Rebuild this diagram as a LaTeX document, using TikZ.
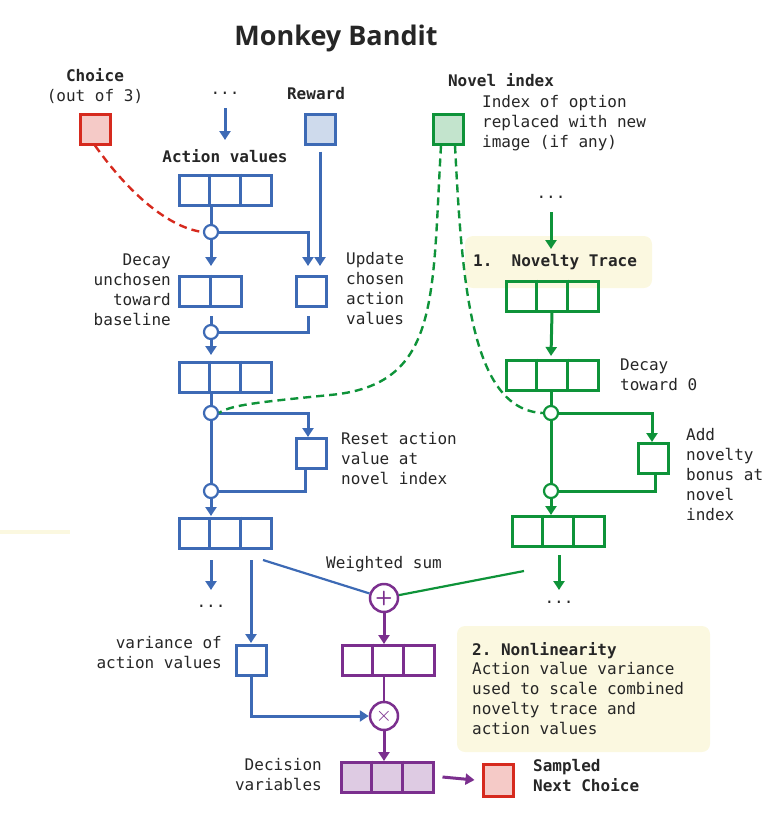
\documentclass[tikz,border=0pt]{standalone}
\usepackage{fontspec}
\setmainfont{Noto Sans}
\setmonofont{DejaVu Sans Mono}
\newfontfamily\titlefont{Open Sans}
\usetikzlibrary{calc,arrows.meta}
\definecolor{cb}{HTML}{3D6AB5}
\definecolor{cg}{HTML}{0E9339}
\definecolor{cp}{HTML}{7B2F8E}
\definecolor{cr}{HTML}{D62A1E}
\definecolor{cy}{HTML}{FBF8E0}
\newcommand\trip[4]{%
  \node[box,#4,minimum width=92pt] (#1) at (#2,#3) {};
  \draw[ln,#4,fill=none] ($(#1.north west)!1/3!(#1.north east)$) -- ($(#1.south west)!1/3!(#1.south east)$);
  \draw[ln,#4,fill=none] ($(#1.north west)!2/3!(#1.north east)$) -- ($(#1.south west)!2/3!(#1.south east)$);}
\begin{document}
\begin{tikzpicture}[x=1pt,y=-1pt,
  box/.style={draw,line width=3pt,minimum width=30pt,minimum height=30pt,inner sep=0pt},
  ln/.style={line width=3pt},
  ar/.style={ln,-{Triangle[length=9pt,width=11pt]}},
  dot/.style={circle,draw,fill=white,line width=2.2pt,minimum size=14pt,inner sep=0pt},
  op/.style={circle,draw=cp,fill=white,line width=2.5pt,minimum size=28pt,inner sep=0pt,text=cp,font=\sffamily\bfseries\fontsize{20}{20}\selectfont},
  t/.style={font=\ttfamily\fontsize{16}{20}\selectfont,text=black!85,inner sep=0pt,align=left},
  tb/.style={t,font=\ttfamily\bfseries\fontsize{16}{20}\selectfont},
  dsh/.style={line width=2.4pt,dash pattern=on 8pt off 5pt},
  note/.style={fill=cy,rounded corners=8pt}]
\useasboundingbox (0,0) rectangle (782,820);
\fill[cy] (0,530) rectangle (70,534);
% title
\node[font=\titlefont\bfseries\fontsize{27}{30}\selectfont,text=black!85] (title) at (336,38) {Monkey Bandit};
% notes
\node[note,minimum width=187pt,minimum height=52pt] (n1) at (558.5,262) {};
\node[tb,anchor=west] (n1t) at (473,262) {1.\ \ Novelty Trace};
\node[note,minimum width=253pt,minimum height=126pt] (n2) at (583.5,689) {};
\node[tb,anchor=west] (n2t) at (472,651) {2. Nonlinearity};
\node[t,anchor=north west] (n2b) at (472,662) {Action value variance\\used to scale combined\\novelty trace and\\action values};
% left top
\node[tb] (chl) at (95,75) {Choice};
\node[t] (chl2) at (95,96) {(out of 3)};
\node[box,draw=cr,fill=cr!25] (ch) at (95,129) {};
\node[t] (dd1) at (225,93) {...};
\coordinate (dd1s) at (225,108);
\node[tb] (rwl) at (316,94) {Reward};
\node[box,draw=cb,fill=cb!25] (rw) at (320,129) {};
\node[tb] (avl) at (225,156) {Action values};
\trip{av1}{225}{190}{draw=cb}
\draw[ar,cb] (dd1s) -- (225,140);
\node[dot,draw=cb] (c1) at (211,232) {};
\draw[ln,cb] (211,205) -- (c1);
\draw[cr,dsh] (ch.south) .. controls (130,195) and (170,228) .. (c1.west);
\node[box,draw=cb,minimum width=62pt] (dc) at (210,291) {};
\draw[ln,cb] ($(dc.north)$) -- (dc.south);
\node[box,draw=cb] (up) at (311,291) {};
\draw[ar,cb] (c1) -- (211,266);
\draw[ar,cb] (c1) -| (308,266);
\draw[ar,cb] (rw.south) ++(0,6) -- (320,266);
\node[t,align=right,anchor=north east] (dcl) at (171,254) {Decay\\unchosen\\toward\\baseline};
\node[t,anchor=north west] (upl) at (346,252) {Update\\chosen\\action\\values};
\node[dot,draw=cb] (c2) at (211,332) {};
\draw[ln,cb] (211,316) -- (c2);
\draw[ln,cb] (c2) -| (308,316);
\draw[ar,cb] (c2) -- (211,355);
\trip{av2}{225}{377}{draw=cb}
\node[dot,draw=cb] (c3) at (211,413) {};
\draw[ln,cb] (211,392) -- (c3);
\node[box,draw=cb] (rs) at (311,453) {};
\draw[ar,cb] (c3) -| (308,437);
\node[t,anchor=north west] (rsl) at (341,432) {Reset action\\value at\\novel index};
\node[dot,draw=cb] (c4) at (211,491) {};
\draw[ln,cb] (c3) -- (c4);
\draw[ln,cb] (c4) -| (305,468);
\draw[ar,cb] (c4) -- (211,516);
\trip{av3}{225}{533}{draw=cb}
\draw[ar,cb] (211,560) -- (211,590);
\node[t] (dd2) at (211,606) {...};
\draw[ar,cb] (251,560) -- (251,643);
\node[box,draw=cb] (var) at (251,660) {};
\node[t,align=right,anchor=north east] (varl) at (222,636) {variance of\\action values};
% right
\node[tb] (nvl) at (501,80) {Novel index};
\node[box,draw=cg,fill=cg!25] (nv) at (448,129) {};
\node[t,anchor=north west] (nvt) at (482,95) {Index of option\\replaced with new\\image (if any)};
\draw[cg,dsh] (nv.south) ++(-7,0) .. controls (432,300) and (440,385) .. (330,395) .. controls (260,402) and (230,405) .. (c3.east);
\node[t] (dd3) at (551,197) {...};
\draw[ar,cg] (551,212) -- (551,249);
\trip{nt1}{552}{296}{draw=cg}
\draw[ar,cg] (nt1.south) -- (551,356);
\trip{nt2}{552}{375}{draw=cg}
\node[t,anchor=north west] (dtl) at (620,359) {Decay\\toward 0};
\node[dot,draw=cg] (g1) at (551,413) {};
\draw[ln,cg] (551,390) -- (g1);
\draw[cg,dsh] (nv.south) ++(7,0) .. controls (462,280) and (470,410) .. (g1.west);
\node[box,draw=cg] (ab) at (653,458) {};
\draw[ar,cg] (g1) -| (652,442);
\node[t,anchor=north west] (abl) at (686,428) {Add\\novelty\\bonus at\\novel\\index};
\node[dot,draw=cg] (g2) at (551,491) {};
\draw[ln,cg] (g1) -- (g2);
\draw[ln,cg] (g2) -| (655,473);
\draw[ar,cg] (g2) -- (551,515);
\trip{nt3}{558}{531}{draw=cg}
\draw[ar,cg] (559,555) -- (559,590);
\node[t] (dd4) at (559,602) {...};
% combine
\node[op] (pl) at (384,598) {+};
\node[t] (wsl) at (384,564) {Weighted sum};
\draw[cb,line width=2.2pt] (263,560) -- (pl);
\draw[cg,line width=2.2pt] (524,571) -- (pl);
\draw[ar,cp] (pl) -- (384,644);
\trip{pv}{388}{660}{draw=cp}
\node[op] (tm) at (384,716) {$\times$};
\draw[cp,line width=2.2pt] (pv.south -| tm) -- (tm);
\draw[ar,cb] (var.south) |- (tm.west);
\draw[ar,cp] (tm) -- (384,761);
\trip{dv}{387}{777}{draw=cp,fill=cp!25}
\node[t,align=right,anchor=north east] (dvl) at (322,758) {Decision\\variables};
\node[box,draw=cr,fill=cr!25,minimum height=32pt] (sc) at (498,780) {};
\draw[ar,cp] ([xshift=8pt]dv.east) -- ([xshift=-7pt]sc.west);
\node[tb,anchor=north west] (scl) at (533,759) {Sampled\\Next Choice};
\end{tikzpicture}
\end{document}
